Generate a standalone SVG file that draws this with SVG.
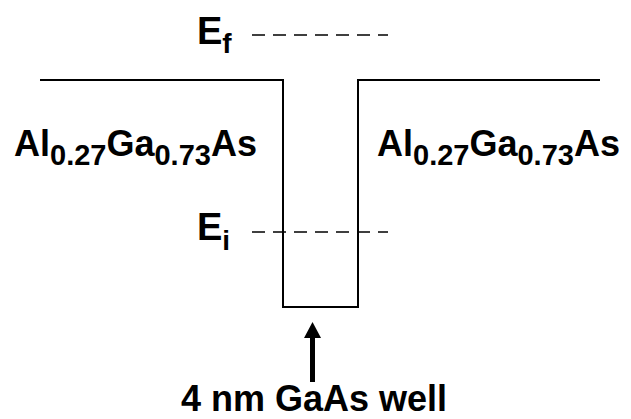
<svg xmlns="http://www.w3.org/2000/svg" width="631" height="419" viewBox="0 0 631 419">
<style>
.t{font-family:"Liberation Sans",Arial,sans-serif;font-weight:bold;fill:#000}
.band{fill:none;stroke:#000;stroke-width:2}
.dash{stroke:#000;stroke-width:1.5;stroke-dasharray:13,8}
</style>
<g id="connectors">
<path class="band" d="M40,80 H283 V307 H358 V80 H600"/>
<line class="dash" x1="252" y1="35" x2="388" y2="35"/>
<line class="dash" x1="252" y1="232" x2="388" y2="232"/>
<line x1="312.5" y1="382" x2="312.5" y2="336" stroke="#000" stroke-width="5"/>
<path d="M304,338 L312.5,322 L321,338 Z" fill="#000"/>
</g>
<g id="Ef"><text class="t" x="197" y="44" font-size="38">E<tspan font-size="28" dy="9">f</tspan></text></g>
<g id="Ei"><text class="t" x="197" y="240" font-size="38">E<tspan font-size="28" dy="10">i</tspan></text></g>
<g id="left"><text class="t" x="14" y="156" font-size="36">Al<tspan font-size="29" dy="9">0.27</tspan><tspan dy="-9">Ga</tspan><tspan font-size="29" dy="9">0.73</tspan><tspan dy="-9">As</tspan></text></g>
<g id="right"><text class="t" x="377" y="156" font-size="36">Al<tspan font-size="29" dy="9">0.27</tspan><tspan dy="-9">Ga</tspan><tspan font-size="29" dy="9">0.73</tspan><tspan dy="-9">As</tspan></text></g>
<g id="well"><text class="t" x="181" y="411" font-size="36">4 nm GaAs well</text></g>
</svg>
